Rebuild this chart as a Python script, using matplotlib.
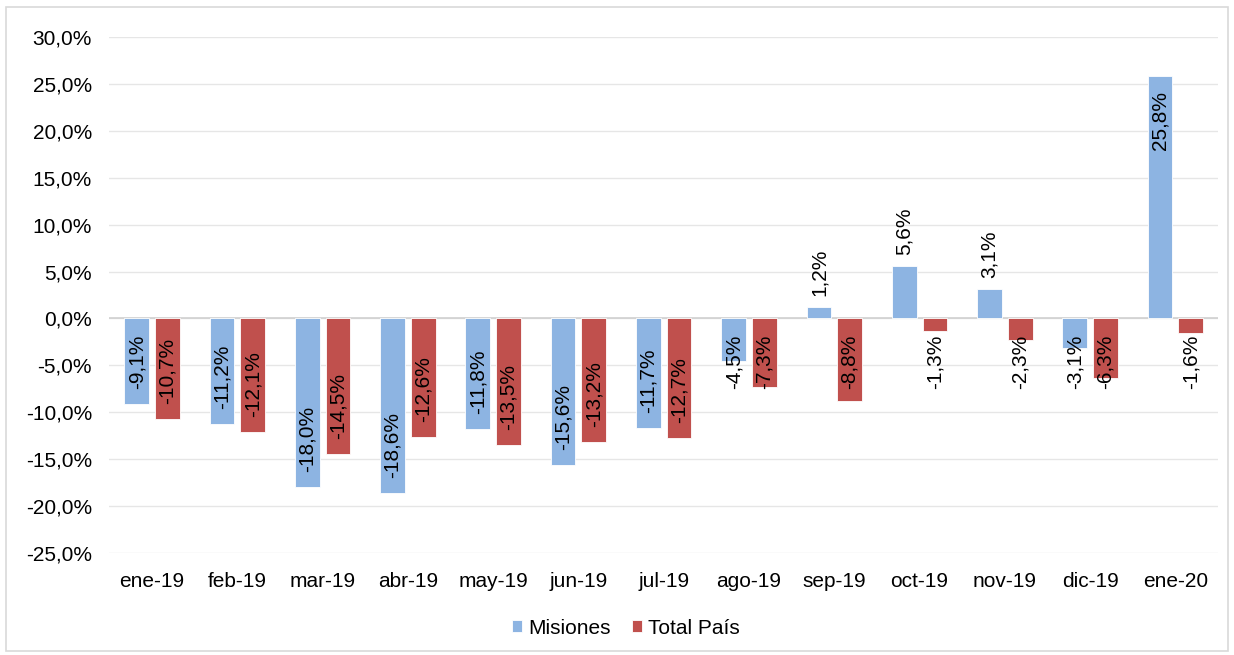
import matplotlib
matplotlib.use("Agg")
import matplotlib.pyplot as plt
from matplotlib.patches import Rectangle
import numpy as np

categories = ["ene-19", "feb-19", "mar-19", "abr-19", "may-19", "jun-19", "jul-19",
              "ago-19", "sep-19", "oct-19", "nov-19", "dic-19", "ene-20"]
misiones = [-9.1, -11.2, -18.0, -18.6, -11.8, -15.6, -11.7, -4.5, 1.2, 5.6, 3.1, -3.1, 25.8]
total_pais = [-10.7, -12.1, -14.5, -12.6, -13.5, -13.2, -12.7, -7.3, -8.8, -1.3, -2.3, -6.3, -1.6]
series_names = ["Misiones", "Total País"]
colors = ["#8DB4E2", "#C0504D"]

plt.rcParams['font.family'] = ['Liberation Sans', 'DejaVu Sans']

fig = plt.figure(figsize=(12.34, 6.55), dpi=100)
ax = fig.add_axes([109.4/1234, 1-553/655, (1218-109.4)/1234, (553-37)/655])

FS = 15
x = np.arange(len(categories))
w = 0.29
off = 0.18
for vals, name, col, o in [(misiones, series_names[0], colors[0], -off),
                           (total_pais, series_names[1], colors[1], off)]:
    ax.bar(x + o, vals, width=w, color=col, label=name, zorder=3,
           edgecolor='white', linewidth=0.6)
    for xi, v in zip(x + o, vals):
        lab = f"{v:.1f}%".replace(".", ",")
        if v < 0:
            pos = min(v + 1.6, -7.5)
            ax.text(xi, pos, lab, rotation=90, ha='center', va='bottom',
                    fontsize=FS, zorder=4)
        else:
            if v > 10:
                ax.text(xi, v - 1.6, lab, rotation=90, ha='center', va='top',
                        fontsize=FS, zorder=4)
            else:
                ax.text(xi, v + 1.2, lab, rotation=90, ha='center', va='bottom',
                        fontsize=FS, zorder=4)

ax.set_ylim(-25, 30)
ax.set_xlim(-0.5, len(categories) - 0.5)
ax.set_yticks(np.arange(-25, 31, 5))
ax.set_yticklabels([f"{t:.1f}%".replace(".", ",") for t in np.arange(-25, 31, 5)])
ax.set_xticks(x)
ax.set_xticklabels(categories)
ax.tick_params(axis='both', length=0, labelsize=FS)
ax.tick_params(axis='y', pad=12.5)
ax.tick_params(axis='x', pad=14)
ax.grid(axis='y', color='#E6E6E6', linewidth=1, zorder=0)
ax.axhline(0, color='#D0D0D0', linewidth=1.2, zorder=2)
for s in ax.spines.values():
    s.set_visible(False)

fig.legend(loc='center', bbox_to_anchor=(626/1234, 1-628/655), ncol=2, frameon=False,
           fontsize=FS, handlelength=0.5, handleheight=0.5, handletextpad=0.3,
           columnspacing=1.0)

fig.patches.append(Rectangle((6/1234, 4/655), 1222/1234, 644/655, transform=fig.transFigure,
                             fill=False, edgecolor='#D9D9D9', linewidth=1.2))

fig.savefig("out.png", dpi=100)
